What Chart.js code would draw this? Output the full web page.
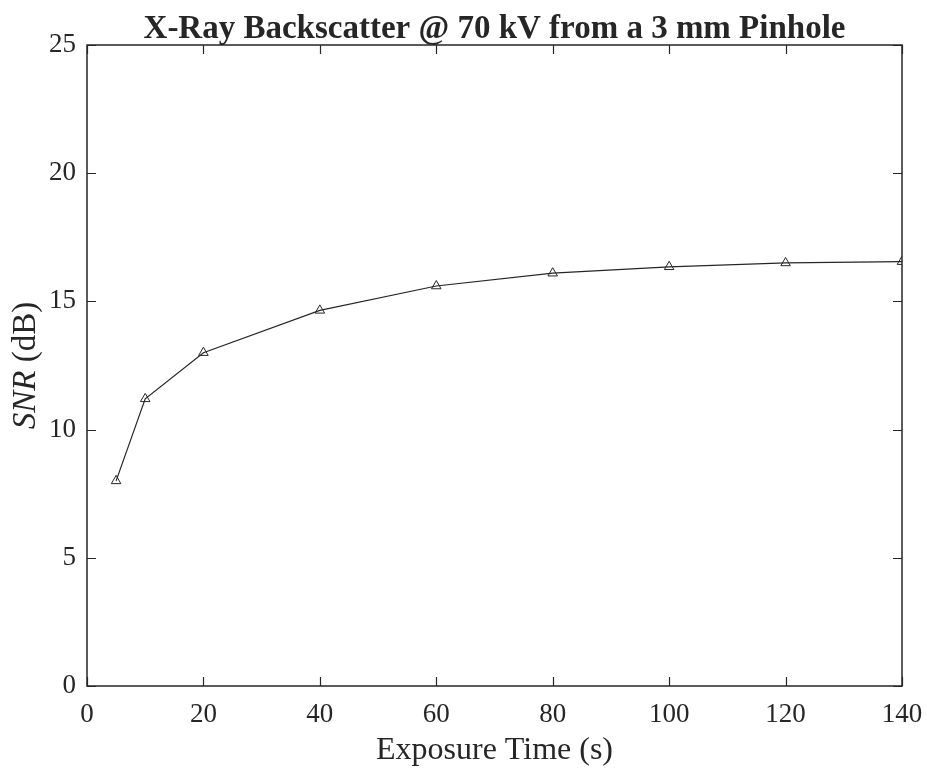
<!DOCTYPE html>
<html>
<head>
<meta charset="utf-8">
<script src="https://cdn.jsdelivr.net/npm/chart.js@4"></script>
<style>
  html, body { margin: 0; padding: 0; background: #fff; }
  #wrap { width: 927px; height: 770px; }
</style>
</head>
<body>
<div id="wrap"><canvas id="grafico" width="927" height="770"></canvas></div>
<script>
// exposure time (s) and measured SNR (dB)
const tiempos = [5, 10, 20, 40, 60, 80, 100, 120, 140];
const snr = [8.0, 11.2, 13.0, 14.65, 15.6, 16.1, 16.35, 16.5, 16.55];
const xTicks = [0, 20, 40, 60, 80, 100, 120, 140];
const yTicks = [0, 5, 10, 15, 20, 25];

const titulo = 'X-Ray Backscatter @ 70 kV from a 3 mm Pinhole';
const ejeX = 'Exposure Time (s)';

const tinta = '#262626';
const fuente = '"Liberation Serif", "Times New Roman", serif';

// box around the axes, inward ticks on all four sides, and the text labels
const marco = {
  id: 'marco',
  afterDraw(chart) {
    const c = chart.ctx;
    const a = chart.chartArea;
    const sx = chart.scales.x, sy = chart.scales.y;
    const largo = 9;
    c.save();
    c.strokeStyle = tinta;
    c.lineWidth = 1.5;
    c.strokeRect(a.left, a.top, a.right - a.left, a.bottom - a.top);
    c.lineWidth = 1.2;
    c.beginPath();
    xTicks.forEach(v => {
      const px = Math.round(sx.getPixelForValue(v)) + 0.5;
      c.moveTo(px, a.bottom); c.lineTo(px, a.bottom - largo);
      c.moveTo(px, a.top); c.lineTo(px, a.top + largo);
    });
    yTicks.forEach(v => {
      const py = Math.round(sy.getPixelForValue(v)) + 0.5;
      c.moveTo(a.left, py); c.lineTo(a.left + largo, py);
      c.moveTo(a.right, py); c.lineTo(a.right - largo, py);
    });
    c.stroke();

    c.fillStyle = tinta;
    const cx = (a.left + a.right) / 2;

    // title
    c.font = 'bold 33px ' + fuente;
    c.textAlign = 'center';
    c.textBaseline = 'alphabetic';
    c.fillText(titulo, cx, 38);

    // x axis title
    c.font = '32px ' + fuente;
    c.fillText(ejeX, cx, 759);

    // y axis title: italic SNR followed by upright (dB)
    c.translate(35, (a.top + a.bottom) / 2);
    c.rotate(-Math.PI / 2);
    c.font = 'italic 33px ' + fuente;
    const w1 = c.measureText('SNR').width;
    c.font = '33px ' + fuente;
    const w2 = c.measureText(' (dB)').width;
    const x0 = -(w1 + w2) / 2;
    c.textAlign = 'left';
    c.font = 'italic 33px ' + fuente;
    c.fillText('SNR', x0, 0);
    c.font = '33px ' + fuente;
    c.fillText(' (dB)', x0 + w1, 0);
    c.restore();
  }
};

const ctx = document.getElementById('grafico').getContext('2d');

const myChart = new Chart(ctx, {
  type: 'line',
  data: {
    datasets: [{
      data: tiempos.map((t, i) => ({ x: t, y: snr[i] })),
      borderColor: tinta,
      borderWidth: 1.2,
      pointStyle: 'triangle',
      pointRadius: 5.5,
      pointBorderWidth: 1,
      pointBorderColor: tinta,
      pointBackgroundColor: 'rgba(255,255,255,0)',
      tension: 0
    }]
  },
  options: {
    responsive: false,
    animation: false,
    layout: { padding: { top: 45, right: 25, left: 0, bottom: 0 } },
    plugins: {
      legend: { display: false },
      title: { display: false },
      tooltip: { enabled: false }
    },
    scales: {
      x: {
        type: 'linear',
        min: 0,
        max: 140,
        afterBuildTicks: s => { s.ticks = xTicks.map(v => ({ value: v })); },
        afterFit: s => { s.height = 84; s.paddingLeft = 0; s.paddingRight = 0; },
        grid: { display: false },
        border: { display: false },
        ticks: {
          color: tinta,
          font: { family: fuente, size: 27 },
          padding: 5,
          maxRotation: 0
        }
      },
      y: {
        min: 0,
        max: 25,
        afterBuildTicks: s => { s.ticks = yTicks.map(v => ({ value: v })); },
        afterFit: s => { s.width = 87; s.paddingTop = 0; s.paddingBottom = 0; },
        grid: { display: false },
        border: { display: false },
        ticks: {
          color: tinta,
          font: { family: fuente, size: 27 },
          padding: 3
        }
      }
    }
  },
  plugins: [marco]
});
</script>
</body>
</html>
